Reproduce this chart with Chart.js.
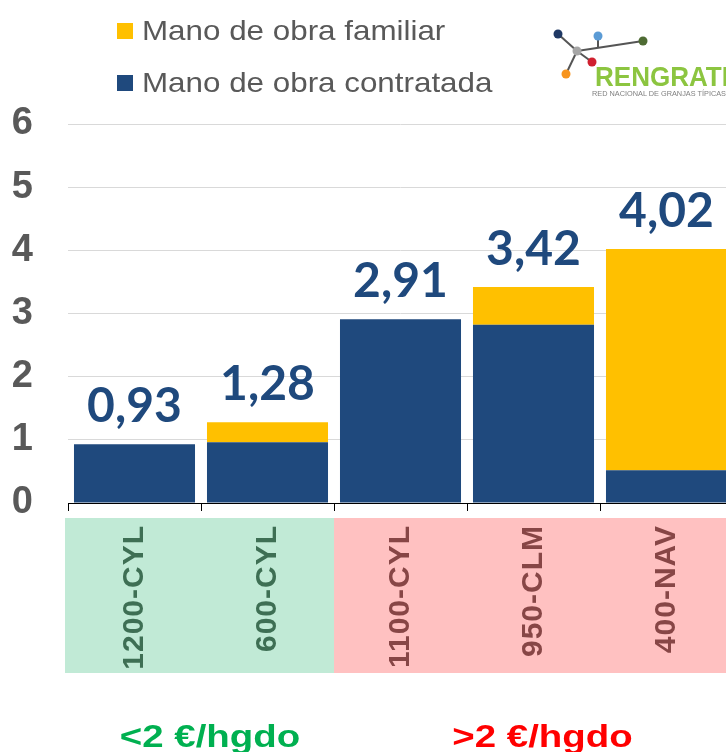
<!DOCTYPE html>
<html>
<head>
<meta charset="utf-8">
<script src="https://cdn.jsdelivr.net/npm/chart.js"></script>
<style>
  body { margin: 0; width: 726px; height: 752px; overflow: hidden; background: #fff; position: relative; }
  #wrap { position: absolute; left: 0; top: 0; width: 760px; height: 752px; }
  #logo { position: absolute; left: 540px; top: 20px; }
</style>
</head>
<body>
<div id="wrap"><canvas id="myChart" width="760" height="752"></canvas></div>

<svg id="logo" width="186" height="90" viewBox="0 0 186 90">
  <g stroke="#555" stroke-width="2" fill="none">
    <line x1="18" y1="14" x2="37" y2="31"/>
    <line x1="37" y1="31" x2="52" y2="42"/>
    <line x1="37" y1="31" x2="26" y2="54"/>
    <line x1="37" y1="31" x2="103" y2="21"/>
    <line x1="58" y1="16" x2="58" y2="28"/>
  </g>
  <circle cx="18" cy="14" r="4.5" fill="#1f3864"/>
  <circle cx="37" cy="31" r="4.5" fill="#a6a6a6"/>
  <circle cx="58" cy="16" r="4.5" fill="#5b9bd5"/>
  <circle cx="103" cy="21" r="4.5" fill="#4e6b33"/>
  <circle cx="52" cy="42" r="4.5" fill="#d0202f"/>
  <circle cx="26" cy="54" r="4.5" fill="#f7941d"/>
  <text x="55" y="66" font-family="Liberation Sans, Arial" font-weight="bold" font-size="28" fill="#8cc540" textLength="134" lengthAdjust="spacingAndGlyphs">RENGRATI</text>
  <text x="52" y="76" font-family="Liberation Sans, Arial" font-size="7" fill="#808080" textLength="134" lengthAdjust="spacingAndGlyphs">RED NACIONAL DE GRANJAS TÍPICAS</text>
</svg>

<script>
// ---- data ----
let categories = ["1200-CYL", "600-CYL", "1100-CYL", "950-CLM", "400-NAV"];
let contratada = [0.93, 0.96, 2.91, 2.82, 0.52];
let familiar   = [0,    0.32, 0,    0.60, 3.50];
let yTicks = [0, 1, 2, 3, 4, 5, 6];

// grupos de precio (indices de categoria)
let groupLabels = ["<2 €/hgdo", ">2 €/hgdo"];
let groupStart  = [0, 2];
let groupEnd    = [1, 4];
let groupBand   = ["#c1ead6", "#ffc1c1"];
let groupTick   = ["#3e6f54", "#874646"];
let groupText   = ["#00b050", "#ff0000"];

function fmt(v) {
  return v.toFixed(2).replace(".", ",");
}

// ---- plugin: bandas y etiquetas del eje x ----
const bandsPlugin = {
  id: "bands",
  beforeDraw(chart) {
    let ctx = chart.ctx;
    let x = chart.scales.x;
    let bottom = chart.chartArea.bottom;
    let half = (x.getPixelForValue(1) - x.getPixelForValue(0)) / 2;

    groupLabels.forEach((g, k) => {
      let left = x.getPixelForValue(groupStart[k]) - half;
      let right = x.getPixelForValue(groupEnd[k]) + half;
      if (k == 0) left -= 3;
      ctx.fillStyle = groupBand[k];
      ctx.fillRect(left, bottom + 15, right - left, 155);
    });
  },
  afterDraw(chart) {
    let ctx = chart.ctx;
    let x = chart.scales.x;
    let bottom = chart.chartArea.bottom;
    let half = (x.getPixelForValue(1) - x.getPixelForValue(0)) / 2;

    // etiquetas de categoria giradas
    categories.forEach((c, i) => {
      let k = i <= groupEnd[0] ? 0 : 1;
      ctx.save();
      ctx.translate(x.getPixelForValue(i), bottom + 22);
      ctx.rotate(-Math.PI / 2);
      ctx.font = "bold 30px 'Liberation Sans', Arial";
      ctx.letterSpacing = "1px";
      ctx.fillStyle = groupTick[k];
      ctx.textAlign = "right";
      ctx.textBaseline = "middle";
      ctx.fillText(c, 0, 0);
      ctx.restore();
    });

    // textos de grupo
    groupLabels.forEach((g, k) => {
      let left = x.getPixelForValue(groupStart[k]) - half;
      let right = x.getPixelForValue(groupEnd[k]) + half;
      ctx.save();
      ctx.translate((left + right) / 2 + 9, 747);
      ctx.scale(1.2, 1);
      ctx.font = "bold 32px 'Liberation Sans', Arial";
      ctx.fillStyle = groupText[k];
      ctx.textAlign = "center";
      ctx.textBaseline = "alphabetic";
      ctx.fillText(g, 0, 0);
      ctx.restore();
    });

    // leyenda (familiar arriba)
    let ds = chart.data.datasets.slice().reverse();
    ds.forEach((d, j) => {
      let base = 40 + j * 52;
      ctx.fillStyle = d.backgroundColor;
      ctx.fillRect(117, base - 17, 16, 16);
      ctx.save();
      ctx.translate(142, base);
      ctx.scale(1.12, 1);
      ctx.font = "28px 'Liberation Sans', Arial";
      ctx.fillStyle = "#595959";
      ctx.textBaseline = "alphabetic";
      ctx.fillText(d.label, 0, 0);
      ctx.restore();
    });
  },
  afterDatasetsDraw(chart) {
    let ctx = chart.ctx;
    let x = chart.scales.x;
    let y = chart.scales.y;
    categories.forEach((c, i) => {
      let total = contratada[i] + familiar[i];
      ctx.save();
      ctx.font = "bold 48px Lato";
      ctx.fillStyle = "#1f497d";
      ctx.textAlign = "center";
      ctx.textBaseline = "alphabetic";
      ctx.fillText(fmt(total), x.getPixelForValue(i), y.getPixelForValue(total) - 22);
      ctx.restore();
    });
  }
};

new Chart("myChart", {
  type: "bar",
  data: {
    labels: categories,
    datasets: [
      {
        label: "Mano de obra contratada",
        backgroundColor: "#1f497d",
        data: contratada,
      },
      {
        label: "Mano de obra familiar",
        backgroundColor: "#ffc000",
        data: familiar,
      },
    ],
  },
  options: {
    responsive: false,
    animation: false,
    layout: { padding: { top: 124, right: 27, bottom: 239, left: 0 } },
    datasets: { bar: { barPercentage: 0.91, categoryPercentage: 1.0 } },
    plugins: {
      legend: { display: false },
      tooltip: { enabled: false },
    },
    scales: {
      x: {
        stacked: true,
        ticks: { display: false },
        grid: { drawOnChartArea: false, drawTicks: true, tickLength: 8, color: "#000", offset: true },
        border: { color: "#000", width: 1 },
        afterFit(scale) { scale.height = 10; },
      },
      y: {
        stacked: true,
        min: 0,
        max: 6,
        afterBuildTicks(scale) { scale.ticks = yTicks.map((v) => ({ value: v })); },
        ticks: {
          padding: 35,
          color: "#595959",
          font: { family: "'Liberation Sans', Arial", size: 38, weight: "bold" },
        },
        grid: { color: "#d9d9d9", drawTicks: false },
        border: { display: false },
        afterFit(scale) { scale.width = 68; },
      },
    },
  },
  plugins: [bandsPlugin],
});
</script>
</body>
</html>
